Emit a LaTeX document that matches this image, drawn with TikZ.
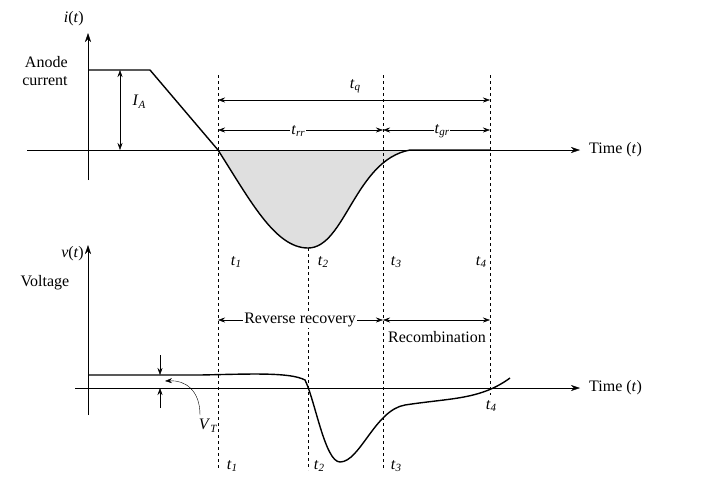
\documentclass[tikz,border=0pt]{standalone}
\usepackage{fontspec}
\setmainfont{Liberation Serif}
\usetikzlibrary{arrows.meta}
\newcommand{\vr}[2]{\textit{#1}\raisebox{-0.35ex}{\fontsize{11}{12}\selectfont\textit{#2}}}
\begin{document}
\begin{tikzpicture}[x=1pt,y=-1pt,font=\fontsize{16}{18}\selectfont,
  ax/.style={-{Stealth[length=9pt,width=6pt]},thin},
  dim/.style={{Stealth[length=7pt,width=5pt]}-{Stealth[length=7pt,width=5pt]},thin},
  dsh/.style={dashed,thin},
  lbl/.style={inner sep=1pt}]
\useasboundingbox (0,0) rectangle (709,483);
\fill[gray!25] (218,150) .. controls (250,200) and (275,248) .. (308,248)
  .. controls (345,248) and (355,160) .. (410,150) -- cycle;
\draw[ax] (88,180) -- (88,33);
\draw[ax] (27,150) -- (580,150);
\node[lbl,anchor=east] at (85,19) {\textit{i}(\textit{t})};
\node[lbl,anchor=west] at (588,150) {Time (\textit{t})};
\node[lbl,align=right] at (45,71) {Anode\\current};
\draw[line width=1.4pt] (88,70) -- (150,70) -- (218,150)
  .. controls (250,200) and (275,248) .. (308,248)
  .. controls (345,248) and (355,160) .. (410,150) -- (490,150);
\draw[dim] (120,70) -- (120,150);
\node[lbl] at (139,102) {\vr{I}{A}};
\draw[dsh] (218,75) -- (218,470);
\draw[dsh] (308,248) -- (308,470);
\draw[dsh] (383,75) -- (383,470);
\draw[dsh] (490,75) -- (490,395);
\draw[dim] (218,100) -- (490,100);
\node[lbl] at (355,86) {\vr{t}{q}};
\draw[dim] (218,130) -- (383,130);
\node[lbl,fill=white] at (298,131) {\vr{t}{rr}};
\draw[dim] (383,130) -- (490,130);
\node[lbl,fill=white] at (442,131) {\vr{t}{gr}};
\node[lbl] at (236,262) {\vr{t}{1}};
\node[lbl] at (323,262) {\vr{t}{2}};
\node[lbl] at (396,262) {\vr{t}{3}};
\node[lbl] at (481,262) {\vr{t}{4}};
\draw[ax] (88,415) -- (88,245);
\draw[ax] (75,388) -- (580,388);
\node[lbl,anchor=east] at (85,254) {\textit{v}(\textit{t})};
\node[lbl] at (45,283) {Voltage};
\node[lbl,anchor=west] at (588,388) {Time (\textit{t})};
\draw[dim] (218,320) -- (383,320);
\node[lbl,fill=white] at (300,320) {Reverse recovery};
\draw[dim] (383,320) -- (490,320);
\node[lbl] at (437,337) {Recombination};
\draw[line width=1.4pt] (88,375) -- (200,375) .. controls (250,374) and (290,372) .. (305,380)
  .. controls (315,400) and (325,462) .. (340,462)
  .. controls (360,462) and (375,410) .. (405,405)
  .. controls (450,398) and (480,400) .. (510,378);
\draw[-{Stealth[length=7pt,width=5pt]},thin] (160,355) -- (160,375);
\draw[-{Stealth[length=7pt,width=5pt]},thin] (160,408) -- (160,388);
\node[lbl] at (208,426) {\vr{V}{T}};
\draw[-{Stealth[length=7pt,width=5pt]},thin] (200,415) .. controls (200,390) and (185,380) .. (165,381);
\node[lbl] at (491,406) {\vr{t}{4}};
\node[lbl] at (232,466) {\vr{t}{1}};
\node[lbl] at (319,466) {\vr{t}{2}};
\node[lbl] at (396,466) {\vr{t}{3}};
\end{tikzpicture}
\end{document}
